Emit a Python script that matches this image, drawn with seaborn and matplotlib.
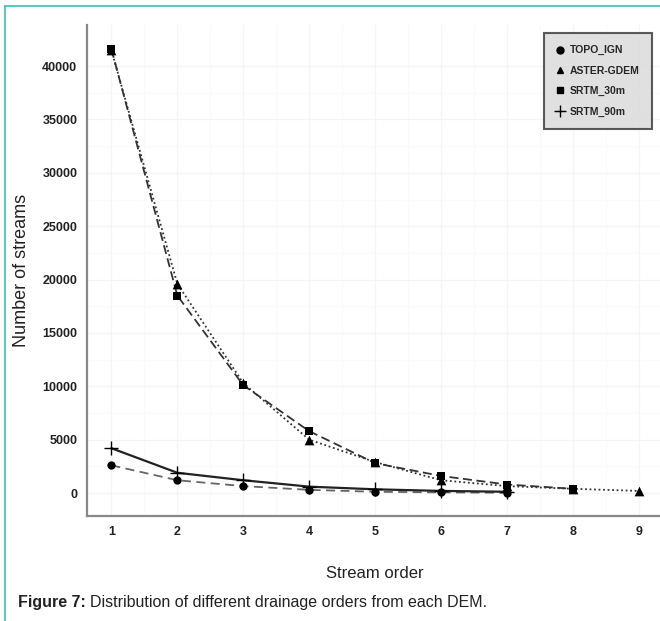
import matplotlib
matplotlib.use("Agg")
import matplotlib.pyplot as plt
import seaborn as sns
import pandas as pd
from matplotlib.lines import Line2D

orders_topo = [1, 2, 3, 4, 5, 6, 7]
topo_ign = [2600, 1200, 650, 300, 120, 60, 30]

orders_aster = [1, 2, 3, 4, 5, 6, 7, 8, 9]
aster_gdem = [41500, 19600, 10300, 5000, 2900, 1200, 650, 400, 200]

orders_srtm30 = [1, 2, 3, 4, 5, 6, 7, 8]
srtm_30m = [41600, 18500, 10100, 5800, 2800, 1600, 800, 400]

orders_srtm90 = [1, 2, 3, 4, 5, 6, 7]
srtm_90m = [4200, 1900, 1200, 600, 350, 200, 120]

series = ["TOPO_IGN", "ASTER-GDEM", "SRTM_30m", "SRTM_90m"]

df = pd.concat([
    pd.DataFrame({"order": orders_topo, "streams": topo_ign, "dem": "TOPO_IGN"}),
    pd.DataFrame({"order": orders_aster, "streams": aster_gdem, "dem": "ASTER-GDEM"}),
    pd.DataFrame({"order": orders_srtm30, "streams": srtm_30m, "dem": "SRTM_30m"}),
    pd.DataFrame({"order": orders_srtm90, "streams": srtm_90m, "dem": "SRTM_90m"}),
])

sns.set_theme(style="white")
plt.rcParams["font.family"] = ["Liberation Sans Narrow", "Liberation Sans", "DejaVu Sans"]

fig = plt.figure(figsize=(6.6, 6.21), dpi=100)
ax = fig.add_axes([87 / 660, 1 - 516 / 621, 573 / 660, 491 / 621])

styles = {
    "TOPO_IGN": dict(marker="o", ls=(0, (5, 3)), color="#666666", lw=1.3, ms=6),
    "ASTER-GDEM": dict(marker="^", ls=(0, (1, 1.5)), color="#333333", lw=1.3, ms=7),
    "SRTM_30m": dict(marker="s", ls=(0, (5, 2.5)), color="#333333", lw=1.3, ms=6),
    "SRTM_90m": dict(marker="+", ls="-", color="#222222", lw=1.6, ms=10),
}

for name in series:
    sub = df[df["dem"] == name]
    st = styles[name]
    sns.lineplot(data=sub, x="order", y="streams", ax=ax, color=st["color"],
                 linestyle=st["ls"], linewidth=st["lw"], legend=False)
    sns.scatterplot(data=sub, x="order", y="streams", ax=ax, marker=st["marker"],
                    color="black", s=st["ms"] ** 2, linewidth=1 if st["marker"] == "+" else 0,
                    legend=False, zorder=3)

ax.set_xlim(0.63, 9.32)
ax.set_ylim(-2150, 43850)
ax.set_xticks(range(1, 10))
ax.set_yticks(range(0, 40001, 5000))
ax.tick_params(axis="both", length=3, width=0.8, color="#888888", labelsize=9, pad=4)
for lab in ax.get_yticklabels() + ax.get_xticklabels():
    lab.set_fontweight("bold")
    lab.set_color("#222222")

ax.grid(True, color="#f5f5f5", lw=1.0)
for x in [1.5, 2.5, 3.5, 4.5, 5.5, 6.5, 7.5, 8.5]:
    ax.axvline(x, color="#fafafa", lw=0.8, zorder=0)
for y in range(2500, 42500, 5000):
    ax.axhline(y, color="#fafafa", lw=0.8, zorder=0)

for side in ["top", "right"]:
    ax.spines[side].set_visible(False)
for side in ["left", "bottom"]:
    ax.spines[side].set_color("#888888")
    ax.spines[side].set_linewidth(1.6)

ax.set_xlabel("")
ax.set_ylabel("")
fig.text(375 / 660, 1 - 573 / 621, "Stream order", fontsize=12, color="#222222",
         ha="center", va="center")
fig.text(22 / 660, 1 - 270 / 621, "Number of streams", fontsize=13, color="#222222",
         rotation=90, ha="center", va="center")

handles = [Line2D([], [], marker=styles[n]["marker"], color="black", ls="-" if n == "SRTM_90m" else "none",
                  lw=0.8, ms=5 if n != "SRTM_90m" else 9, markeredgewidth=1) for n in series]
leg = ax.legend(handles, series, loc="upper right", bbox_to_anchor=(0.995, 0.995),
                frameon=True, fontsize=7.5, handlelength=0.8, handletextpad=0.5,
                labelspacing=1.0, borderpad=1.2)
leg.get_frame().set_facecolor("#d9d9d9")
leg.get_frame().set_edgecolor("#333333")
leg.get_frame().set_linewidth(1.5)
leg.get_frame().set_boxstyle("square", pad=0)
for t in leg.get_texts():
    t.set_fontweight("bold")

# teal frame of the figure
fig.add_artist(Line2D([5 / 660, 1], [1 - 6 / 621, 1 - 6 / 621], color="#3cbfae", lw=1.2))
fig.add_artist(Line2D([5 / 660, 5 / 660], [0, 1 - 6 / 621], color="#3cbfae", lw=1.2))

fig.text(18 / 660, 1 - 602 / 621, "Figure 7:", fontsize=11.5, fontweight="bold",
         va="center", ha="left", family=["Liberation Sans", "DejaVu Sans"], color="#222222")
fig.text(90 / 660, 1 - 602 / 621, "Distribution of different drainage orders from each DEM.",
         fontsize=11.5, va="center", ha="left", family=["Liberation Sans", "DejaVu Sans"], color="#222222")

fig.savefig("out.png", dpi=100)
